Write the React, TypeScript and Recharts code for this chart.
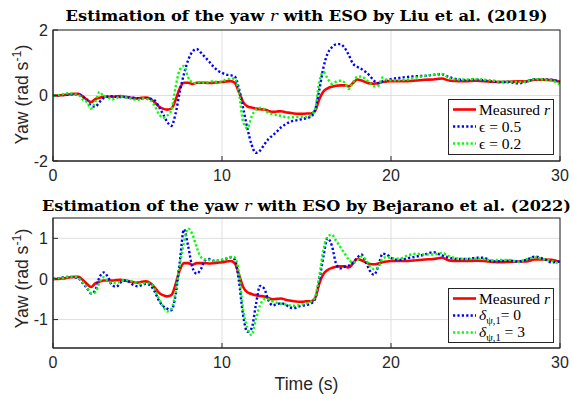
import React from "react";
import { LineChart, Line, XAxis, YAxis, CartesianGrid, Legend } from "recharts";

// sample times (s): 0.25 s steps up to 20 s, then 0.5 s steps
const time = [
  0, 0.25, 0.5, 0.75,
  1, 1.25, 1.5, 1.75,
  2, 2.25, 2.5, 2.75,
  3, 3.25, 3.5, 3.75,
  4, 4.25, 4.5, 4.75,
  5, 5.25, 5.5, 5.75,
  6, 6.25, 6.5, 6.75,
  7, 7.25, 7.5, 7.75,
  8, 8.25, 8.5, 8.75,
  9, 9.25, 9.5, 9.75,
  10, 10.25, 10.5, 10.75,
  11, 11.25, 11.5, 11.75,
  12, 12.25, 12.5, 12.75,
  13, 13.25, 13.5, 13.75,
  14, 14.25, 14.5, 14.75,
  15, 15.25, 15.5, 15.75,
  16, 16.25, 16.5, 16.75,
  17, 17.25, 17.5, 17.75,
  18, 18.25, 18.5, 18.75,
  19, 19.25, 19.5, 19.75,
  20, 20.5, 21, 21.5, 22, 22.5, 23, 23.5, 24, 24.5,
  25, 25.5, 26, 26.5, 27, 27.5, 28, 28.5, 29, 29.5, 30,
];

// measured yaw rate r (rad/s)
const measuredYaw = [
  0, 0, 0.01, 0.02,
  0.04, 0.05, 0.05, -0.02,
  -0.12, -0.2, -0.11, -0.07,
  -0.04, -0.04, -0.04, -0.03,
  -0.02, -0.04, -0.06, -0.08,
  -0.09, -0.07, -0.06, -0.1,
  -0.2, -0.33, -0.4, -0.43,
  -0.4, -0.14, 0.22, 0.39,
  0.39, 0.35, 0.39, 0.39,
  0.39, 0.38, 0.39, 0.4,
  0.41, 0.43, 0.44, 0.39,
  0.11, -0.2, -0.33, -0.37,
  -0.4, -0.42, -0.43, -0.47,
  -0.5, -0.49, -0.48, -0.51,
  -0.53, -0.55, -0.56, -0.56,
  -0.55, -0.55, -0.48, -0.12,
  0.12, 0.22, 0.27, 0.3,
  0.31, 0.31, 0.28, 0.38,
  0.49, 0.46, 0.41, 0.37,
  0.36, 0.38, 0.41, 0.43,
  0.44, 0.44, 0.44, 0.46, 0.48, 0.49, 0.52, 0.45, 0.44, 0.44,
  0.45, 0.44, 0.42, 0.41, 0.42, 0.43, 0.43, 0.48, 0.48, 0.47, 0.42,
];

// ESO by Liu et al., epsilon = 0.5
const liuEps05 = [
  0, 0, 0.01, 0.02,
  0.03, 0.04, 0.03, -0.03,
  -0.15, -0.3, -0.34, -0.2,
  -0.08, -0.03, -0.02, -0.04,
  -0.05, -0.05, -0.06, -0.07,
  -0.08, -0.09, -0.08, -0.1,
  -0.14, -0.33, -0.56, -0.8,
  -0.93, -0.56, 0.11, 0.66,
  1.08, 1.34, 1.42, 1.31,
  1.17, 1.03, 0.88, 0.76,
  0.69, 0.64, 0.62, 0.58,
  0.22, -0.38, -1.0, -1.5,
  -1.75, -1.68, -1.5, -1.33,
  -1.22, -1.1, -0.97, -0.88,
  -0.81, -0.77, -0.75, -0.72,
  -0.69, -0.65, -0.45, 0.15,
  0.85, 1.28, 1.47, 1.56,
  1.57, 1.46, 1.24, 0.97,
  0.88, 0.81, 0.72, 0.6,
  0.45, 0.37, 0.43, 0.47,
  0.5, 0.54, 0.57, 0.59, 0.6, 0.63, 0.65, 0.55, 0.49, 0.47,
  0.49, 0.46, 0.43, 0.41, 0.41, 0.37, 0.42, 0.5, 0.5, 0.48, 0.41,
];

// ESO by Liu et al., epsilon = 0.2
const liuEps02 = [
  0, 0.01, 0.03, 0.06,
  0.07, 0.04, 0.02, -0.12,
  -0.2, -0.4, -0.2, 0.11,
  -0.02, -0.05, -0.12, -0.08,
  -0.03, -0.05, -0.08, -0.12,
  -0.14, -0.09, -0.1, -0.14,
  -0.3, -0.55, -0.68, -0.62,
  -0.45, 0.25, 0.78, 0.9,
  0.55, 0.4, 0.37, 0.42,
  0.38, 0.41, 0.44, 0.41,
  0.43, 0.49, 0.51, 0.52,
  0.1, -0.8, -1.0, -0.65,
  -0.43, -0.38, -0.42, -0.53,
  -0.57, -0.6, -0.62, -0.66,
  -0.67, -0.66, -0.66, -0.65,
  -0.66, -0.6, -0.45, 0.4,
  0.72, 0.52, 0.36, 0.42,
  0.45, 0.4, 0.2, 0.4,
  0.57, 0.58, 0.5, 0.37,
  0.28, 0.3, 0.55, 0.48,
  0.46, 0.47, 0.49, 0.55, 0.6, 0.63, 0.66, 0.52, 0.49, 0.49,
  0.5, 0.48, 0.46, 0.42, 0.42, 0.41, 0.43, 0.5, 0.49, 0.46, 0.34,
];

// ESO by Bejarano et al., delta_{psi,1} = 0
const bejDelta0 = [
  0, 0.01, 0.03, 0.05,
  0.05, 0.04, 0.02, -0.1,
  -0.22, -0.36, -0.28, 0.04,
  0.16, 0.05, -0.16, -0.19,
  -0.09, -0.04, -0.07, -0.15,
  -0.18, -0.15, -0.12, -0.16,
  -0.3, -0.52, -0.66, -0.73,
  -0.77, -0.4, 0.41, 1.22,
  0.8, 0.28, 0.13, 0.24,
  0.46, 0.49, 0.45, 0.45,
  0.47, 0.5, 0.53, 0.48,
  -0.05, -0.9, -1.3, -1.22,
  -0.65, -0.17, -0.24, -0.53,
  -0.65, -0.62, -0.6, -0.63,
  -0.7, -0.72, -0.68, -0.66,
  -0.64, -0.61, -0.5, -0.05,
  0.55, 1.0, 0.82, 0.38,
  0.26, 0.3, 0.33, 0.4,
  0.52, 0.6, 0.42, 0.2,
  0.1, 0.32, 0.62, 0.6,
  0.52, 0.47, 0.51, 0.55, 0.6, 0.66, 0.58, 0.52, 0.49, 0.49,
  0.52, 0.52, 0.43, 0.44, 0.45, 0.43, 0.47, 0.55, 0.5, 0.41, 0.43,
];

// ESO by Bejarano et al., delta_{psi,1} = 3
const bejDelta3 = [
  0, 0.01, 0.02, 0.04,
  0.05, 0.05, 0.02, -0.08,
  -0.2, -0.35, -0.33, -0.08,
  0.04, -0.05, -0.1, -0.1,
  -0.06, -0.02, -0.04, -0.07,
  -0.1, -0.12, -0.1, -0.12,
  -0.24, -0.48, -0.67, -0.8,
  -0.74, -0.33, 0.33, 0.9,
  1.24, 1.1, 0.78, 0.54,
  0.48, 0.47, 0.44, 0.45,
  0.47, 0.51, 0.54, 0.53,
  0.15, -0.75, -1.2, -1.38,
  -1.0, -0.65, -0.5, -0.5,
  -0.55, -0.59, -0.61, -0.63,
  -0.65, -0.66, -0.65, -0.63,
  -0.6, -0.56, -0.45, 0.05,
  0.72, 1.04, 1.09, 0.94,
  0.79, 0.63, 0.48, 0.4,
  0.45, 0.55, 0.48, 0.32,
  0.24, 0.3, 0.5, 0.54,
  0.51, 0.5, 0.58, 0.62, 0.6, 0.6, 0.64, 0.55, 0.5, 0.49,
  0.5, 0.49, 0.46, 0.47, 0.47, 0.42, 0.48, 0.53, 0.49, 0.44, 0.37,
];

const timeTicks = [0, 10, 20, 30];
const liuTicks = [-2, 0, 2];
const bejTicks = [-1, 0, 1];

const AXIS = "#262626";
const GRID = "#dfdfdf";
const SANS = "'Liberation Sans', Arial, sans-serif";
const SERIF = "'Liberation Serif', 'DejaVu Serif', serif";

// plot-area layout shared by the charts and the box outline
const PLOT_LEFT = 53;
const PLOT_RIGHT = 560;

const liuData = time.map((t, i) => ({
  t,
  measured: measuredYaw[i],
  a: liuEps05[i],
  b: liuEps02[i],
}));

const bejData = time.map((t, i) => ({
  t,
  measured: measuredYaw[i],
  a: bejDelta0[i],
  b: bejDelta3[i],
}));

type Series = {
  key: string;
  name: string;
  color: string;
  width: number;
  dash?: string;
  label: React.ReactNode;
};

const sub = (s: string) => (
  <span style={{ fontSize: 10.5, position: "relative", top: 4 }}>{s}</span>
);

const liuSeries: Series[] = [
  { key: "measured", name: "Measured r", color: "#ff0000", width: 2.6, label: <>Measured <i>r</i></> },
  { key: "a", name: "ϵ = 0.5", color: "#0000ff", width: 2.4, dash: "2.2 2.2", label: <>ϵ = 0.5</> },
  { key: "b", name: "ϵ = 0.2", color: "#00ff00", width: 2.4, dash: "2.2 2.2", label: <>ϵ = 0.2</> },
];

const bejSeries: Series[] = [
  { key: "measured", name: "Measured r", color: "#ff0000", width: 2.6, label: <>Measured <i>r</i></> },
  { key: "a", name: "δψ,1 = 0", color: "#0000ff", width: 2.4, dash: "2.2 2.2", label: <><i>δ</i>{sub("ψ,1")}= 0</> },
  { key: "b", name: "δψ,1 = 3", color: "#00ff00", width: 2.4, dash: "2.2 2.2", label: <><i>δ</i>{sub("ψ,1")} = 3</> },
];

function LegendBox({ payload, series, height }: { payload?: any[]; series: Series[]; height: number }) {
  // keep plotting order rather than the legend's sorted order
  const shown = series.filter((s) => (payload || []).some((e) => e.dataKey === s.key));
  return (
    <div
      style={{
        width: 106,
        height,
        boxSizing: "border-box",
        border: `1px solid ${AXIS}`,
        background: "#fff",
        paddingTop: 1,
      }}
    >
      {shown.map((s) => (
        <div key={s.key} style={{ display: "flex", alignItems: "center", height: 17 }}>
          <svg width={30} height={17} style={{ flex: "none" }}>
            <line x1={4} x2={27} y1={8.5} y2={8.5} stroke={s.color} strokeWidth={s.width} strokeDasharray={s.dash} />
          </svg>
          <span style={{ fontFamily: SERIF, fontSize: 15.5, lineHeight: "17px", color: "#000", whiteSpace: "nowrap" }}>
            {s.label}
          </span>
        </div>
      ))}
    </div>
  );
}

type PanelProps = {
  data: any[];
  series: Series[];
  height: number;
  plotTop: number;
  plotBottom: number;
  yDomain: [number, number];
  yTicks: number[];
  yLabelShift: number;
  legendTop: number;
  legendHeight: number;
  showTimeLabel: boolean;
};

function Panel(p: PanelProps) {
  const xAxisHeight = 25;
  const tickStyle = { fill: AXIS, fontSize: 16, fontFamily: SANS };

  const renderYLabel = (props: any) => {
    const vb = props.viewBox;
    const cx = 28;
    const cy = vb.y + vb.height / 2 + p.yLabelShift;
    return (
      <text
        x={cx}
        y={cy}
        transform={`rotate(-90, ${cx}, ${cy})`}
        textAnchor="middle"
        fontFamily={SANS}
        fontSize={17.6}
        fill={AXIS}
      >
        Yaw (rad s
        <tspan fontSize={12.5} dy={-7}>-1</tspan>
        <tspan dy={7}>)</tspan>
      </text>
    );
  };

  const renderTimeLabel = (props: any) => {
    const vb = props.viewBox;
    return (
      <text x={vb.x + vb.width / 2} y={vb.y + 42} textAnchor="middle" fontFamily={SANS} fontSize={17.6} fill={AXIS}>
        Time (s)
      </text>
    );
  };

  return (
    <LineChart
      width={572}
      height={p.height}
      data={p.data}
      margin={{ top: p.plotTop, right: 572 - PLOT_RIGHT, left: 0, bottom: p.height - p.plotBottom - xAxisHeight }}
    >
      <CartesianGrid stroke={GRID} strokeWidth={1} />
      <XAxis
        dataKey="t"
        type="number"
        domain={[0, 30]}
        ticks={timeTicks}
        interval={0}
        height={xAxisHeight}
        stroke={AXIS}
        tickSize={-5}
        tickMargin={14}
        tick={tickStyle}
        label={p.showTimeLabel ? { content: renderTimeLabel } : undefined}
      />
      <YAxis
        type="number"
        domain={p.yDomain}
        ticks={p.yTicks}
        interval={0}
        allowDataOverflow
        width={PLOT_LEFT}
        stroke={AXIS}
        tickSize={-5}
        tickMargin={10}
        tick={tickStyle}
        label={{ content: renderYLabel }}
      />
      {p.series.map((s) => (
        <Line
          key={s.key}
          dataKey={s.key}
          name={s.name}
          type="monotone"
          stroke={s.color}
          strokeWidth={s.width}
          strokeDasharray={s.dash}
          dot={false}
          activeDot={false}
          isAnimationActive={false}
        />
      ))}
      <Legend
        layout="vertical"
        align="center"
        verticalAlign="middle"
        wrapperStyle={{ left: 448, top: p.legendTop, width: 106, height: p.legendHeight }}
        content={(props: any) => (
          <LegendBox payload={props.payload} series={p.series} height={p.legendHeight} />
        )}
      />
    </LineChart>
  );
}

function Title({ y, text, length }: { y: number; text: string; length: number }) {
  return (
    <text
      x={(PLOT_LEFT + PLOT_RIGHT) / 2}
      y={y}
      textAnchor="middle"
      textLength={length}
      lengthAdjust="spacingAndGlyphs"
      fontFamily="'DejaVu Serif', serif"
      fontWeight="bold"
      fontSize={15}
      fill="#000"
    >
      Estimation of the yaw <tspan fontStyle="italic" fontWeight="normal">r</tspan> {text}
    </text>
  );
}

// closed axes box (MATLAB "box on")
function Box({ top, bottom }: { top: number; bottom: number }) {
  return (
    <rect
      x={PLOT_LEFT}
      y={top}
      width={PLOT_RIGHT - PLOT_LEFT}
      height={bottom - top}
      fill="none"
      stroke={AXIS}
      strokeWidth={1}
    />
  );
}

export default function App() {
  const liuTop = 30;
  const liuBottom = 161;
  const bejOffset = 195;
  const bejTop = 23;
  const bejBottom = 153;
  return (
    <div
      style={{
        position: "absolute",
        left: 0,
        top: 0,
        width: 572,
        height: 399,
        background: "#fff",
        overflow: "hidden",
      }}
    >
      <div style={{ position: "absolute", left: 0, top: 0 }}>
        <Panel
          data={liuData}
          series={liuSeries}
          height={195}
          plotTop={liuTop}
          plotBottom={liuBottom}
          yDomain={[-2, 2]}
          yTicks={liuTicks}
          yLabelShift={-1}
          legendTop={99}
          legendHeight={56}
          showTimeLabel={false}
        />
      </div>
      <div style={{ position: "absolute", left: 0, top: bejOffset }}>
        <Panel
          data={bejData}
          series={bejSeries}
          height={204}
          plotTop={bejTop}
          plotBottom={bejBottom}
          yDomain={[-1.7, 1.5]}
          yTicks={bejTicks}
          yLabelShift={-4.5}
          legendTop={93}
          legendHeight={55}
          showTimeLabel={true}
        />
      </div>
      <svg
        width={572}
        height={399}
        style={{ position: "absolute", left: 0, top: 0, pointerEvents: "none" }}
      >
        <Box top={liuTop} bottom={liuBottom} />
        <Box top={bejOffset + bejTop} bottom={bejOffset + bejBottom} />
        <Title y={20.5} text="with ESO by Liu et al. (2019)" length={482} />
        <Title y={210.5} text="with ESO by Bejarano et al. (2022)" length={529} />
      </svg>
    </div>
  );
}
